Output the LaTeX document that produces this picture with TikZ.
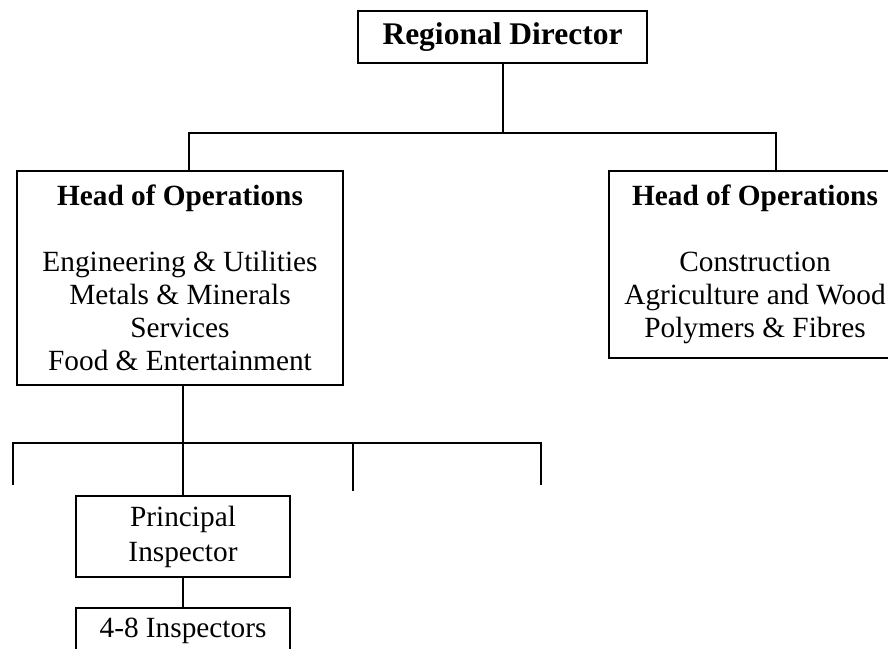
\documentclass[tikz,border=0pt]{standalone}
\usepackage{fontspec}
\setmainfont{Liberation Serif}
\begin{document}
\begin{tikzpicture}[x=1pt,y=-1pt,
  orgbox/.style={draw=black,line width=2pt,inner sep=0pt,align=center,
    font=\fontsize{29.3}{33}\selectfont},
  conn/.style={draw=black,line width=2pt}]
\useasboundingbox (0,0) rectangle (888,648);
\clip (0,0) rectangle (888,648);
% boxes
\node[orgbox,minimum width=289pt,minimum height=52pt,
  font=\fontsize{31.5}{36}\selectfont\bfseries] (rd) at (502.5,37)
  {Regional Director};
\node[orgbox,minimum width=326pt,minimum height=214pt] (hoo1) at (180,278)
  {\textbf{Head of Operations}\\[33pt]Engineering \& Utilities\\Metals \& Minerals\\Services\\Food \& Entertainment};
\node[orgbox,minimum width=292pt,minimum height=187pt] (hoo2) at (755,264.5)
  {\textbf{Head of Operations}\\[33pt]Construction\\Agriculture and Wood\\Polymers \& Fibres};
\node[orgbox,minimum width=214pt,minimum height=81pt,
  font=\fontsize{29.3}{35}\selectfont] (pi) at (183,536.5)
  {Principal\\Inspector};
\node[orgbox,minimum width=214pt,minimum height=46pt] (insp) at (183,631)
  {4-8 Inspectors};
% coordinates for the bars and open ends
\coordinate (bl) at (189,133);
\coordinate (br) at (776,133);
\coordinate (bar) at (183,443);
\coordinate (t1) at (13,485);
\coordinate (t3) at (353,491);
\coordinate (t4) at (541,485);
% connectors
\draw[conn] (rd.south) -- (rd.south |- bl);
\draw[conn] (bl |- hoo1.north) -- (bl) -- (br) -- (br |- hoo2.north);
\draw[conn] (pi.north |- hoo1.south) -- (pi.north);
\draw[conn] (t1) |- (t4 |- bar) -- (t4);
\draw[conn] (t3 |- bar) -- (t3);
\draw[conn] (pi.south) -- (insp.north);
\end{tikzpicture}
\end{document}
